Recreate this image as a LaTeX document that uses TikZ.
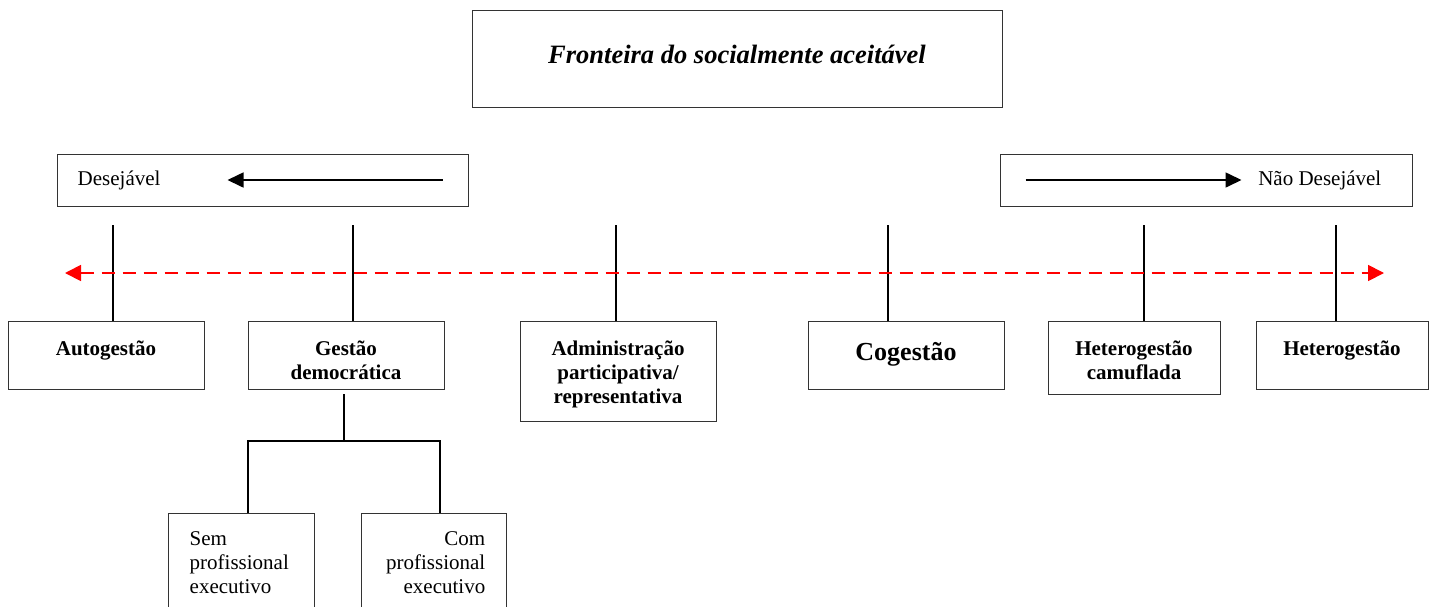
\documentclass[tikz,border=0pt]{standalone}
\usepackage{fontspec}
\setmainfont{Liberation Serif}
\usetikzlibrary{arrows.meta, positioning}
\definecolor{dashred}{RGB}{255, 0, 0}

\tikzset{
  frame/.style={draw=black!80, line width=1pt, inner sep=0pt},
  catbox/.style={frame, anchor=north, minimum width=196pt, minimum height=68pt},
  subbox/.style={frame, anchor=north, minimum height=130pt},
  boxtext/.style={anchor=north, yshift=-20pt, align=center, inner sep=0pt, font=\fontsize{21}{24}\selectfont\bfseries},
  plaintext/.style={inner sep=0pt, font=\fontsize{21}{24}\selectfont},
  link/.style={line width=1.6pt},
  dirarrow/.style={line width=1.6pt, -{Triangle[length=16pt, width=15pt]}},
  scaleline/.style={dashred, line width=1.8pt, dash pattern=on 13pt off 8pt,
    {Triangle[length=16pt, width=16pt]}-{Triangle[length=16pt, width=16pt]}}
}

\begin{document}
\begin{tikzpicture}[x=1pt, y=-1pt]
  \useasboundingbox (0,0) rectangle (1429,606);
  \clip (0,0) rectangle (1429,606);

  % title
  \node[frame, minimum width=530pt, minimum height=97pt,
    label={[inner sep=0pt, yshift=4pt, font=\fontsize{26.5}{30}\selectfont\bfseries\itshape]center:Fronteira do socialmente aceitável}] (title) at (737,58.5) {};

  % direction boxes
  \node[frame, minimum width=411pt, minimum height=52pt,
    label={[plaintext, anchor=west, xshift=21pt]west:Desejável}] (desej) at (262.5,180) {};
  \draw[dirarrow] ([xshift=-26pt]desej.east) -- ([xshift=171pt]desej.west);
  \node[frame, minimum width=412pt, minimum height=52pt,
    label={[plaintext, anchor=east, xshift=-31pt]east:Não Desejável}] (naodesej) at (1206,180) {};
  \draw[dirarrow] ([xshift=26pt]naodesej.west) -- ([xshift=-171pt]naodesej.east);

  % forms of management
  \node[catbox, label={[boxtext]north:Autogestão}] (auto) at (106,321) {};
  \node[catbox, label={[boxtext]north:{Gestão\\democrática}}] (gestao) at (346,321) {};
  \node[catbox, minimum height=100pt, label={[boxtext]north:{Administração\\participativa/\\representativa}}] (admin) at (618,321) {};
  \node[catbox, label={[boxtext, yshift=-1pt, font=\fontsize{26}{30}\selectfont\bfseries]north:Cogestão}] (coges) at (906,321) {};
  \node[catbox, minimum width=172pt, minimum height=73pt, label={[boxtext]north:{Heterogestão\\camuflada}}] (hetcam) at (1134,321) {};
  \node[catbox, minimum width=172pt, label={[boxtext]north:Heterogestão}] (hetero) at (1342,321) {};

  \foreach \n/\dx in {auto/7, gestao/7, admin/-2, coges/-18, hetcam/10, hetero/-6}
    \draw[link] ([xshift=\dx pt]\n.north) -- ++(0,-96);

  % scale
  \coordinate (leftend) at (65,273);
  \coordinate (rightend) at (1384,273);
  \draw[scaleline] (leftend) -- (rightend);

  % gestao democratica split
  \node[subbox, minimum width=146pt,
    label={[plaintext, anchor=north west, align=left, xshift=22pt, yshift=-18pt]north west:{Sem\\profissional\\executivo}}] (sem) at (241,513) {};
  \node[subbox, minimum width=145pt,
    label={[plaintext, anchor=north east, align=right, xshift=-21pt, yshift=-18pt]north east:{Com\\profissional\\executivo}}] (com) at (433.5,513) {};
  \coordinate (fork) at (344,441);
  \draw[link] ([xshift=-2pt, yshift=-4pt]gestao.south) -- (fork);
  \draw[link] ([xshift=7pt]sem.north) |- (fork) -| ([xshift=6.5pt]com.north);
\end{tikzpicture}
\end{document}
